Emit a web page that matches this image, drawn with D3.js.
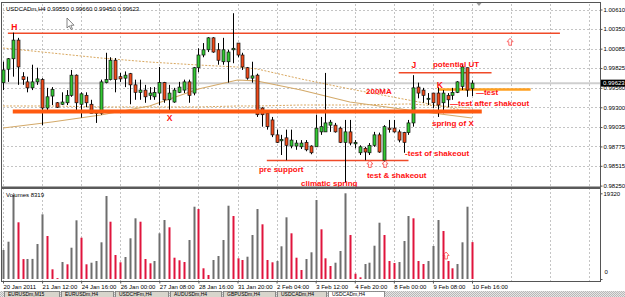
<!DOCTYPE html>
<html>
<head>
<meta charset="utf-8">
<script src="https://cdn.jsdelivr.net/npm/d3@7"></script>
<style>
body { margin: 0; background: #fff; }
svg { display: block; font-family: "Liberation Sans", Arial, sans-serif; }
</style>
</head>
<body>
<div id="chart"></div>
<script>
// ---- data (USDCADm, H4) ----
const header = "USDCADm,H4  0.99550 0.99660 0.99450 0.99623";

const opens = [0.9963,0.9981,0.9995,1.0020,0.9971,0.9964,0.9956,0.9964,0.9967,0.9929,
  0.9945,0.9936,0.9934,0.9936,0.9946,0.9973,0.9934,0.9946,0.9934,0.9922,
  0.9922,0.9963,0.9967,0.9993,0.9971,0.9969,0.9975,0.9960,0.9950,0.9953,
  0.9946,0.9944,0.9949,0.9963,0.9940,0.9937,0.9950,0.9953,0.9964,0.9949,
  0.9983,1.0000,1.0007,1.0023,1.0007,0.9991,0.9991,1.0007,1.0016,1.0000,
  0.9983,0.9969,0.9973,0.9929,0.9922,0.9913,0.9893,0.9885,0.9889,0.9878,
  0.9878,0.9877,0.9883,0.9878,0.9877,0.9897,0.9897,0.9906,0.9906,0.9902,
  0.9883,0.9897,0.9881,0.9869,0.9875,0.9869,0.9879,0.9893,0.9859,0.9902,
  0.9902,0.9897,0.9896,0.9896,0.9909,0.9957,0.9953,0.9941,0.9949,0.9949,
  0.9936,0.9946,0.9946,0.9950,0.9958,0.9983,0.99550];
const highs = [0.9991,0.9996,1.0030,1.0023,0.9977,0.9971,0.9987,0.9983,0.9969,0.9956,
  0.9957,0.9937,0.9950,0.9953,0.9980,0.9974,0.9950,0.9950,0.9940,0.9926,
  0.9967,1.0003,0.9997,0.9996,0.9976,0.9978,0.9976,0.9967,0.9967,0.9960,
  0.9957,0.9957,0.9984,0.9964,0.9960,0.9956,0.9964,0.9967,0.9967,0.9984,
  1.0009,1.0016,1.0024,1.0024,1.0016,1.0023,1.0007,1.0056,1.0016,1.0003,
  0.9984,0.9991,0.9975,0.9930,0.9924,0.9917,0.9900,0.9893,0.9900,0.9900,
  0.9886,0.9886,0.9886,0.9879,0.9920,0.9917,0.9976,0.9913,0.9909,0.9904,
  0.9913,0.9913,0.9886,0.9879,0.9877,0.9882,0.9897,0.9896,0.9906,0.9913,
  0.9913,0.9900,0.9897,0.9913,0.9973,0.9963,0.9956,0.9949,0.9949,0.9957,
  0.9953,0.9949,0.9956,0.9965,0.9987,0.9983,0.99660];
const lows = [0.9953,0.9964,0.9971,0.9960,0.9960,0.9950,0.9953,0.9960,0.9906,0.9926,
  0.9933,0.9929,0.9933,0.9933,0.9944,0.9926,0.9916,0.9930,0.9922,0.9909,
  0.9920,0.9962,0.9966,0.9950,0.9964,0.9957,0.9934,0.9940,0.9940,0.9936,
  0.9940,0.9940,0.9933,0.9936,0.9926,0.9936,0.9949,0.9949,0.9936,0.9946,
  0.9977,0.9997,1.0004,1.0003,0.9987,0.9987,0.9963,0.9989,0.9997,0.9980,
  0.9967,0.9963,0.9917,0.9904,0.9900,0.9890,0.9882,0.9866,0.9859,0.9875,
  0.9873,0.9874,0.9871,0.9867,0.9877,0.9893,0.9897,0.9897,0.9896,0.9882,
  0.9829,0.9879,0.9875,0.9866,0.9859,0.9866,0.9877,0.9869,0.9857,0.9896,
  0.9896,0.9883,0.9869,0.9893,0.9904,0.9942,0.9936,0.9933,0.9929,0.9917,
  0.9922,0.9930,0.9940,0.9949,0.9953,0.9944,0.99450];
const closes = [0.9980,0.9995,1.0020,0.9984,0.9967,0.9956,0.9964,0.9968,0.9929,0.9944,
  0.9954,0.9930,0.9937,0.9946,0.9973,0.9936,0.9948,0.9936,0.9922,0.9924,
  0.9964,0.9967,0.9993,0.9967,0.9968,0.9973,0.9960,0.9950,0.9953,0.9944,
  0.9949,0.9950,0.9963,0.9940,0.9949,0.9953,0.9957,0.9964,0.9946,0.9983,
  1.0000,1.0007,1.0023,1.0004,0.9993,1.0007,1.0004,1.0009,1.0000,0.9984,
  0.9969,0.9972,0.9920,0.9920,0.9904,0.9893,0.9883,0.9887,0.9879,0.9886,
  0.9882,0.9882,0.9873,0.9869,0.9902,0.9904,0.9909,0.9910,0.9897,0.9883,
  0.9897,0.9882,0.9883,0.9877,0.9870,0.9879,0.9893,0.9870,0.9904,0.9900,
  0.9897,0.9886,0.9883,0.9909,0.9956,0.9949,0.9946,0.9942,0.9936,0.9933,
  0.9949,0.9940,0.9950,0.9964,0.9984,0.9953,0.99623];
const volumes = [6537,8407,18934,12780,4490,4510,4530,7889,14583,9692,
  2186,200,3832,3313,7055,13231,9309,3313,3674,4057,
  8272,18708,12915,5410,3764,4959,9174,13682,12915,4508,
  3539,4057,10301,13299,11653,4801,4215,3832,8791,16296,
  15778,2412,902,4283,5184,8791,16522,14200,4666,4283,
  5026,9918,15778,12329,4283,3764,4057,7371,13907,10301,
  4801,2029,4508,6018,17807,11202,4666,2930,3674,6311,
  19320,9918,1195,383,3381,3674,7506,12690,9918,4057,
  3606,3832,8565,14200,13682,4057,3381,4057,7438,13299,
  10819,4057,2412,3381,8272,16296,8319];

// moving averages, sampled at these bars
const maBars   = [0, 10, 20, 30, 40, 48, 52, 61, 71, 83, 96];
const ma200    = [0.99022,0.99102,0.99196,0.99317,0.99545,0.99665,0.99652,0.99531,0.99370,0.99263,0.99156];
const maUpper  = [1.00094,1.00027,0.99960,0.99906,0.99866,0.99839,0.99813,0.99679,0.99545,0.99397,0.99237];
const maLower  = [0.99317,0.99317,0.99304,0.99304,0.99304,0.99317,0.99317,0.99330,0.99330,0.99344,0.99290];

const priceTicks = [1.00610,1.00350,1.00085,0.99825,0.99560,0.99300,0.99035,0.98775,0.98515,0.98250];
const timeLabels = ["20 Jan 2011","21 Jan 12:00","24 Jan 16:00","26 Jan 00:00","27 Jan 08:00","28 Jan 16:00",
  "31 Jan 20:00","2 Feb 04:00","3 Feb 12:00","4 Feb 20:00","8 Feb 00:00","9 Feb 08:00","10 Feb 16:00"];
const timeBars = [0,8,16,24,32,40,48,56,64,72,80,88,96];
const gridBars = [0,8,16,24,32,40,48,56,64,72,80,88,96,104,112,120];
const lastPrice = 0.99623;
const volMax = 19320;

// hand-drawn level lines: [fromBar, toBar, price]
const levelH = [1, 114, 1.00291];
const levelX = [2, 98, 0.99243];
const levelPre = [54, 83, 0.98587];
const levelJ = [81, 100, 0.99763];
const levelK = [89, 108, 0.99538];

// annotation texts: [text, bar, price, size]
const notes = [
  ["H", 1.7, 1.00329, 8.5], ["X", 33.5, 0.99117, 8.5], ["J", 83.6, 0.99820, 8.5], ["K", 88.8, 0.99558, 8.5],
  ["potential UT", 88, 0.99846, 8], ["\u2014test", 96.8, 0.99465, 8],
  ["\u2014test after shakeout", 91.5, 0.99317, 8], ["spring of X", 87.8, 0.99049, 8],
  ["200MA", 74.3, 0.99478, 8], ["-test of shakeout", 82.3, 0.98647, 8],
  ["pre support", 52.4, 0.98426, 8], ["climatic spring", 61, 0.98245, 8],
  ["test & shakeout", 74.5, 0.98353, 8]
];
// hollow up arrows: [bar, price] (last one sits in the volume pane, value = volume)
const arrowsMain = [[103.8, 1.00178], [75.1, 0.98540], [78.2, 0.98540]];
const arrowsVol = [[90.7, 5300]];

const tabs = ["EURUSDm,M15","EURUSDm,H4","USDCHFm,H4","AUDUSDm,H4","GBPUSDm,H4","USDCADm,H4","USDCADm,H4"];
const tabX = [4, 61, 115, 170, 223, 277, 328, 386];

// ---- drawing ----
const W = 625, H = 297;
const svg = d3.select("#chart").append("svg").attr("width", W).attr("height", H);

const x = d3.scaleLinear().domain([0, 96]).range([3, 472]);
const y = d3.scaleLinear().domain([0.98250, 1.00610]).range([185.6, 9.5]);
const vy = d3.scaleLinear().domain([0, volMax]).range([279, 193.3]);

const bars = opens.map((o, i) => ({i, o, h: highs[i], l: lows[i], c: closes[i], v: volumes[i]}));

svg.append("rect").attr("width", W).attr("height", H).attr("fill", "#fff");

// grid
const grid = svg.append("g").attr("stroke", "#c4c4c4").attr("stroke-dasharray", "2,2").attr("stroke-width", 1);
grid.selectAll(".vg").data(gridBars).join("line")
  .attr("x1", d => Math.round(x(d)) + 0.5).attr("x2", d => Math.round(x(d)) + 0.5)
  .attr("y1", 4).attr("y2", 281);
grid.selectAll(".hg").data(priceTicks.slice(0, -1)).join("line")
  .attr("x1", 3).attr("x2", 600)
  .attr("y1", d => Math.round(y(d)) + 0.5).attr("y2", d => Math.round(y(d)) + 0.5);

// bid line
svg.append("line").attr("x1", 2).attr("x2", 600)
  .attr("y1", y(lastPrice)).attr("y2", y(lastPrice))
  .attr("stroke", "#cfcfcf").attr("stroke-width", 2);

// moving averages
const maLine = vals => d3.line().x((d, k) => x(maBars[k])).y(d => y(d))(vals);
svg.append("path").attr("d", maLine(maUpper)).attr("fill", "none")
  .attr("stroke", "#d9a860").attr("stroke-width", 1).attr("stroke-dasharray", "2,1.5");
svg.append("path").attr("d", maLine(maLower)).attr("fill", "none")
  .attr("stroke", "#d9a860").attr("stroke-width", 1).attr("stroke-dasharray", "2,1.5");
svg.append("path").attr("d", maLine(ma200)).attr("fill", "none")
  .attr("stroke", "#d4aa6a").attr("stroke-width", 1.2);

// level lines
const level = (lv, color, width) => svg.append("line")
  .attr("x1", x(lv[0])).attr("x2", x(lv[1]))
  .attr("y1", y(lv[2])).attr("y2", y(lv[2]))
  .attr("stroke", color).attr("stroke-width", width);
level(levelH, "#f04a28", 1.4);
level(levelPre, "#f04a28", 1.4);
level(levelJ, "#f04a28", 1.4);
level(levelK, "#ffa020", 2.6);

// candles
const cg = svg.append("g");
cg.selectAll(".wick").data(bars).join("line")
  .attr("x1", d => Math.round(x(d.i)) + 0.5).attr("x2", d => Math.round(x(d.i)) + 0.5)
  .attr("y1", d => y(d.h)).attr("y2", d => y(d.l))
  .attr("stroke", "#000").attr("stroke-width", 1);
cg.selectAll(".body").data(bars).join("rect")
  .attr("x", d => Math.round(x(d.i)) - 1)
  .attr("width", 3)
  .attr("y", d => y(Math.max(d.o, d.c)))
  .attr("height", d => Math.max(1, Math.abs(y(d.o) - y(d.c))))
  .attr("fill", d => d.c >= d.o ? "#34c834" : "#f04a1a")
  .attr("stroke", "#111").attr("stroke-width", 0.7);

// thick X support line drawn over candles
level(levelX, "#ff5a10", 4);

// annotations
svg.append("g").selectAll("text").data(notes).join("text")
  .attr("x", d => x(d[1])).attr("y", d => y(d[2]))
  .attr("font-size", d => d[3]).attr("font-weight", "bold")
  .attr("fill", "#ff1010").text(d => d[0]);

const arrowPath = (cx, cy) =>
  `M${cx},${cy - 3.5} L${cx + 3},${cy} L${cx + 1.3},${cy} L${cx + 1.3},${cy + 3.5} L${cx - 1.3},${cy + 3.5} L${cx - 1.3},${cy} L${cx - 3},${cy} Z`;
svg.append("g").selectAll("path").data(arrowsMain).join("path")
  .attr("d", d => arrowPath(x(d[0]), y(d[1])))
  .attr("fill", "none").attr("stroke", "#ff5a5a").attr("stroke-width", 0.9);
svg.append("g").selectAll("path").data(arrowsVol).join("path")
  .attr("d", d => arrowPath(x(d[0]), vy(d[1])))
  .attr("fill", "none").attr("stroke", "#ff5a5a").attr("stroke-width", 0.9);

// volume bars
svg.append("g").selectAll("rect").data(bars).join("rect")
  .attr("x", d => Math.round(x(d.i)) - 0.5).attr("width", 2)
  .attr("y", d => vy(d.v)).attr("height", d => vy(0) - vy(d.v))
  .attr("fill", (d, k) => k > 0 && d.v < volumes[k - 1] ? "#e0143c" : "#6e6e6e");

// frames
svg.append("rect").attr("x", 1.5).attr("y", 2.5).attr("width", 599).attr("height", 279)
  .attr("fill", "none").attr("stroke", "#555").attr("stroke-width", 1);
svg.append("line").attr("x1", 1).attr("x2", 601).attr("y1", 187.8).attr("y2", 187.8)
  .attr("stroke", "#5a5a5a").attr("stroke-width", 2.4);

// header texts
svg.append("text").attr("x", 6).attr("y", 10.5).attr("font-size", 6).attr("fill", "#000").text(header);
svg.append("text").attr("x", 6).attr("y", 197).attr("font-size", 6).attr("fill", "#000")
  .text("Volumes " + volumes[volumes.length - 1]);

// cursor
svg.append("path").attr("d", "M67,18 L67,28 L69.3,25.8 L71,29.5 L72.4,28.9 L70.8,25.3 L74,25.2 Z")
  .attr("fill", "#fff").attr("stroke", "#666").attr("stroke-width", 0.8);
// chart shift marker
svg.append("path").attr("d", "M476.5,3 L481.5,3 L479,6 Z").attr("fill", "#999");

// price axis
const yAxis = d3.axisRight(y).tickValues(priceTicks).tickFormat(d3.format(".5f")).tickSize(2).tickPadding(1);
const yg = svg.append("g").attr("transform", "translate(600.5,0)").call(yAxis);
yg.select(".domain").remove();
yg.selectAll("text").attr("font-size", 6).attr("font-family", "Liberation Sans, Arial").attr("fill", "#000");
yg.selectAll("line").attr("stroke", "#555");

// current price box
svg.append("rect").attr("x", 601).attr("y", y(lastPrice) - 3.5).attr("width", 24).attr("height", 7).attr("fill", "#000");
svg.append("text").attr("x", 603).attr("y", y(lastPrice) + 2).attr("font-size", 6).attr("fill", "#fff")
  .text(d3.format(".5f")(lastPrice));

// volume axis
const vAxis = d3.axisRight(vy).tickValues([0, volMax]).tickFormat(d3.format("d")).tickSize(2).tickPadding(1);
const vg = svg.append("g").attr("transform", "translate(600.5,0)").call(vAxis);
vg.select(".domain").remove();
vg.selectAll("text").attr("font-size", 6).attr("font-family", "Liberation Sans, Arial").attr("fill", "#000");
vg.selectAll(".tick").filter(d => d === 0).select("text").attr("dy", "-0.9em").attr("x", 4);
vg.selectAll("line").attr("stroke", "#555");

// time axis
const xAxis = d3.axisBottom(x).tickValues(timeBars).tickFormat((d, k) => timeLabels[k]).tickSize(2).tickPadding(1);
const xg = svg.append("g").attr("transform", "translate(0,281.5)").call(xAxis);
xg.select(".domain").remove();
xg.selectAll("text").attr("font-size", 6).attr("font-family", "Liberation Sans, Arial")
  .attr("fill", "#000").attr("text-anchor", "start").attr("dx", 0);
xg.selectAll("line").attr("stroke", "#555");

// window tabs at the bottom
const defs = svg.append("defs");
const pat = defs.append("pattern").attr("id", "hatch").attr("width", 2).attr("height", 2).attr("patternUnits", "userSpaceOnUse");
pat.append("rect").attr("width", 2).attr("height", 2).attr("fill", "#e6e6e6");
pat.append("rect").attr("width", 1).attr("height", 1).attr("fill", "#b8b8b8");
pat.append("rect").attr("x", 1).attr("y", 1).attr("width", 1).attr("height", 1).attr("fill", "#b8b8b8");
svg.append("rect").attr("x", 0).attr("y", 291).attr("width", W).attr("height", 6).attr("fill", "url(#hatch)");
const tg = svg.append("g");
tabs.forEach((t, k) => {
  tg.append("rect").attr("x", tabX[k] + 0.5).attr("y", 291.5).attr("width", tabX[k + 1] - tabX[k] - 2).attr("height", 7)
    .attr("fill", k === tabs.length - 1 ? "#ffffff" : "#d8d5cc").attr("stroke", "#777").attr("stroke-width", 0.8);
  tg.append("text").attr("x", tabX[k] + 4).attr("y", 296.2).attr("font-size", 5).attr("fill", "#000").text(t);
});
</script>
</body>
</html>
